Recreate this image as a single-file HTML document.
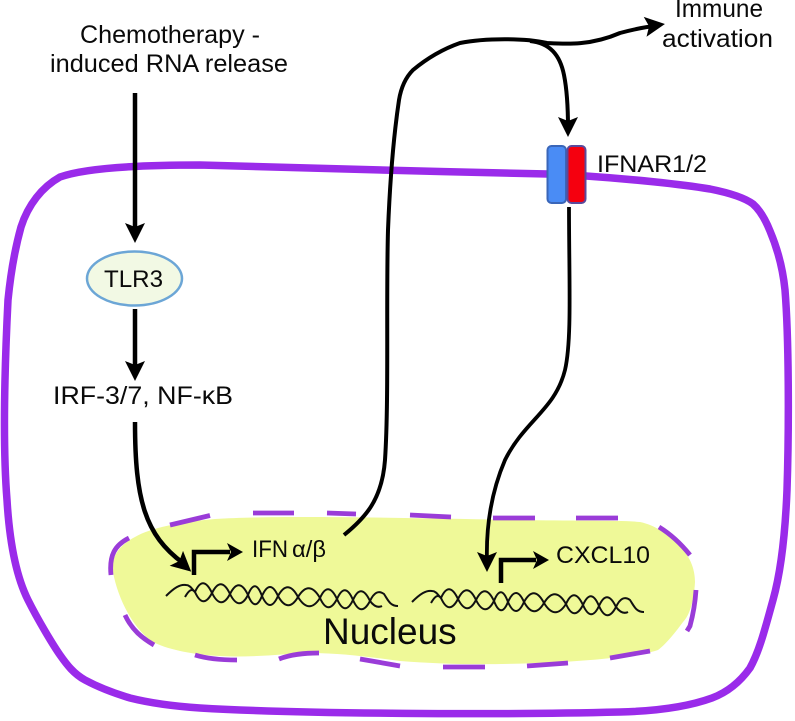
<!DOCTYPE html>
<html>
<head>
<meta charset="utf-8">
<style>
html,body{margin:0;padding:0;background:#fff;}
svg{display:block;}
text{font-family:"Liberation Sans",sans-serif;fill:#0a0a0a;}
</style>
</head>
<body>
<svg width="795" height="721" viewBox="0 0 795 721" xmlns="http://www.w3.org/2000/svg">
<defs>
<path id="arrowh" d="M-10,-13 L0,-9 L10,-13 L0,7 Z" fill="#000"/>
<g id="dna" fill="none" stroke="#111" stroke-width="2">
<path d="M166,596 C174,588 180,584 186,585 C190,585 192,589 195,592 Q203,610 212,593 Q221,575 230,594 Q239,612 248,595 Q255,577 262,596 Q270,614 278,596 Q288,578 298,597 Q309,615 320,598 Q328,580 337,599 Q345,617 353,600 Q361,582 370,601 Q376,609 382,606"/>
<path d="M185,597 C189,590 192,588 195,592 Q203,574 212,593 Q221,611 230,594 Q239,576 248,595 Q255,613 262,596 Q270,578 278,596 Q288,614 298,597 Q309,579 320,598 Q328,616 337,599 Q345,581 353,600 Q361,618 370,601 Q376,588 384,594 C388,600 390,606 398,606"/>
</g>
</defs>
<!-- Cell membrane -->
<path d="M200,165 C300,167 430,172 548,174 L586,176 C630,179 680,184 710,189 C730,193 745,198 753,204 C761,211 766,221 770,231 C778,250 783,270 785,290 C789,340 789,430 787,490 C785,540 780,575 773,600 C766,625 760,650 750,668 C740,682 728,692 712,698 C690,706 660,711 620,712 C500,715 300,714 200,708 C170,706 150,703 130,698 C110,692 98,687 85,680 C74,674 67,665 60,655 C53,645 38,620 28,600 C18,580 10,550 7,500 C3,450 4,380 8,300 C11,270 16,245 21,227 C28,205 42,187 60,177 C85,168 140,165 200,165 Z" fill="#fff" stroke="#9a2bea" stroke-width="7.500"/>
<!-- Nucleus -->
<path d="M113,572 C111,555 120,545 135,537 C150,528 180,522 215,519 C280,515 400,518 520,520 C570,521 620,520 640,522 C655,525 670,535 683,550 C692,560 695,572 695,582 C694,600 690,615 683,622 C675,633 665,645 658,650 C645,655 600,660 560,662 C500,665 450,665 400,661 C370,657 340,653 310,653 C280,654 250,658 220,656 C195,655 170,650 155,643 C135,632 118,600 113,572 Z" fill="#eff998"/>
<g fill="none" stroke="#9a3cd8" stroke-width="4.800">
<path d="M111,575 C109,555 115,545 129,538"/>
<path d="M170,525 L210,515.500"/>
<path d="M253,513 L294,513"/>
<path d="M327,513 L356,514"/>
<path d="M410,515 L451,517"/>
<path d="M493,518 L535,518"/>
<path d="M576,518 L618,518"/>
<path d="M659,527 C672,535 682,545 690,555"/>
<path d="M696,590 C695,605 693,615 690,626 L687,631"/>
<path d="M610,658 L650,651"/>
<path d="M527,666 L568,663"/>
<path d="M443,667 L485,667"/>
<path d="M360,659 L400,666"/>
<path d="M279,659 C292,654 305,653 319,653"/>
<path d="M195,655 C208,659 222,660 237,660"/>
<path d="M125,615 C132,630 142,638 154,645"/>
</g>
<!-- Arrows -->
<g fill="none" stroke="#000" stroke-width="4.500">
<path d="M135,93 L135,232"/>
<path d="M135,309 L135,368"/>
<path d="M135,422 C135,500 145,535 183,563"/>
<path d="M344,535 C365,518 382,500 385,460 C389,400 386,300 388,230 C390,180 393,140 399,100 C401,88 405,78 413,70 C425,60 440,50 460,43 C485,38 525,38 547,43 C565,44 590,46 620,33 C635,29 645,27 655,26" stroke-width="4"/>
<path d="M530,41 C550,43 560,55 564,75 C567,90 568,110 568,128" stroke-width="4"/>
<path d="M569,207 C569,280 572,340 565,370 C555,410 525,420 505,460 C490,495 486,530 487,562" stroke-width="3.800"/>
</g>
<use href="#arrowh" transform="translate(135,236)"/>
<use href="#arrowh" transform="translate(135,374)"/>
<use href="#arrowh" transform="translate(186,567) rotate(-48)"/>
<use href="#arrowh" transform="translate(658,25) rotate(-98)"/>
<use href="#arrowh" transform="translate(568,130)"/>
<use href="#arrowh" transform="translate(487,565)"/>
<!-- Promoter arrows -->
<g fill="none" stroke="#000" stroke-width="4.500">
<path d="M194,575 L194,552 L230,552"/>
<path d="M501,583 L501,560 L536,560"/>
</g>
<path d="M227,543 L243,552 L227,561 L231,552 Z" fill="#000"/>
<path d="M533,551 L549,560 L533,569 L537,560 Z" fill="#000"/>
<!-- DNA -->
<use href="#dna"/>
<use href="#dna" transform="translate(246,6)"/>
<!-- Receptor -->
<rect x="547.500" y="146" width="18.500" height="57" rx="4" fill="#4a8cf5" stroke="#3a66b8" stroke-width="2"/>
<rect x="567.500" y="146" width="18" height="57" rx="4" fill="#f5000f" stroke="#5a4a9c" stroke-width="2"/>
<!-- TLR3 -->
<ellipse cx="134.500" cy="278.500" rx="47.500" ry="27" fill="#f2f9e4" stroke="#6ca6d6" stroke-width="2.500"/>
<!-- Text -->
<text x="80" y="43" font-size="25" textLength="180" lengthAdjust="spacingAndGlyphs">Chemotherapy -</text>
<text x="50" y="72" font-size="25" textLength="238" lengthAdjust="spacingAndGlyphs">induced RNA release</text>
<text x="104" y="287" font-size="24" textLength="59" lengthAdjust="spacingAndGlyphs">TLR3</text>
<text x="53" y="404" font-size="25" textLength="180" lengthAdjust="spacingAndGlyphs">IRF-3/7, NF-κB</text>
<text x="675" y="17" font-size="25" textLength="88" lengthAdjust="spacingAndGlyphs">Immune</text>
<text x="662" y="47" font-size="25" textLength="111" lengthAdjust="spacingAndGlyphs">activation</text>
<text x="597" y="172" font-size="24" textLength="110" lengthAdjust="spacingAndGlyphs">IFNAR1/2</text>
<text x="252" y="557" font-size="24" textLength="36" lengthAdjust="spacingAndGlyphs">IFN</text>
<text x="292" y="557" font-size="23" textLength="34" lengthAdjust="spacingAndGlyphs">α/β</text>
<text x="556" y="563" font-size="24" textLength="94" lengthAdjust="spacingAndGlyphs">CXCL10</text>
<text x="323" y="644" font-size="37">Nucleus</text>
</svg>
</body>
</html>
